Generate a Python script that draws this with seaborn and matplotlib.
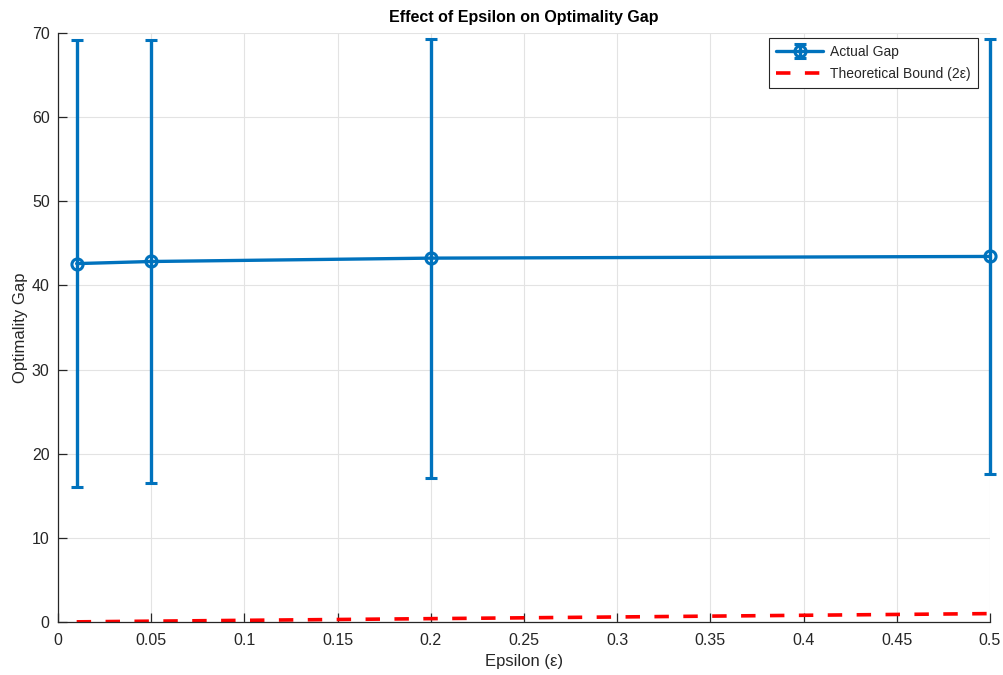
import numpy as np
import pandas as pd
import matplotlib
matplotlib.use("Agg")
import matplotlib.pyplot as plt
import seaborn as sns

# Epsilon values and measured optimality gaps (mean ± std)
epsilon = [0.01, 0.05, 0.2, 0.5]
gap_mean = [42.6, 42.85, 43.25, 43.45]
gap_std = [26.55, 26.35, 26.1, 25.9]
bound = [2 * e for e in epsilon]  # theoretical bound 2ε

x_ticks = [0, 0.05, 0.1, 0.15, 0.2, 0.25, 0.3, 0.35, 0.4, 0.45, 0.5]
y_ticks = [0, 10, 20, 30, 40, 50, 60, 70]

sns.set_style("whitegrid")
plt.rcParams["font.family"] = ["Liberation Sans", "DejaVu Sans"]

df = pd.DataFrame({"epsilon": epsilon, "mean": gap_mean, "std": gap_std, "bound": bound})

fig = plt.figure(figsize=(10.04, 6.75), dpi=100)
ax = fig.add_axes([0.0578, 0.0785, 0.9282, 0.8725])

blue = "#0072BD"
eb = ax.errorbar(df["epsilon"], df["mean"], yerr=df["std"], color=blue, lw=2.4,
                 marker="o", ms=8, mfc="none", mew=2.2, capsize=4, capthick=2.2,
                 elinewidth=2.4, label="Actual Gap", zorder=3, clip_on=False)
sns.lineplot(data=df, x="epsilon", y="bound", ax=ax, color="#ff0000", lw=2.6,
             dashes=False, label="Theoretical Bound (2\u03b5)", zorder=2)
ax.lines[-1].set_dashes((4, 4))

ax.set_xlim(0, 0.5)
ax.set_ylim(0, 70)
ax.set_xticks(x_ticks)
ax.set_xticklabels([f"{t:g}" for t in x_ticks])
ax.set_yticks(y_ticks)

ax.grid(True, color="#e3e3e3", lw=0.8)
ax.set_axisbelow(True)
for side in ["top", "right"]:
    ax.spines[side].set_visible(False)
for side in ["left", "bottom"]:
    ax.spines[side].set_color("#262626")
    ax.spines[side].set_linewidth(0.9)
    ax.spines[side].set_zorder(4)
ax.tick_params(bottom=True, left=True, direction="in", length=6.5, width=0.9,
               color="#262626", labelsize=11.5, labelcolor="#262626", pad=6)
ax.tick_params(axis="x", pad=8)

ax.set_xlabel("Epsilon (\u03b5)", fontsize=12, color="#262626", labelpad=4)
ax.set_ylabel("Optimality Gap", fontsize=12, color="#262626", labelpad=3)
ax.set_title("Effect of Epsilon on Optimality Gap", fontsize=11.5,
             fontweight="bold", color="#000000", pad=8)

handles, labels = ax.get_legend_handles_labels()
order = [labels.index("Actual Gap"), labels.index("Theoretical Bound (2\u03b5)")]
leg = ax.legend([handles[i] for i in order], [labels[i] for i in order],
                loc="upper right", bbox_to_anchor=(0.987, 0.9915), borderaxespad=0,
                fontsize=10, frameon=True, fancybox=False, edgecolor="#262626",
                framealpha=1, handlelength=3.4, borderpad=0.5,
                labelspacing=0.55, handletextpad=0.5)
leg.get_frame().set_linewidth(0.8)

fig.savefig("out.png", dpi=100)
